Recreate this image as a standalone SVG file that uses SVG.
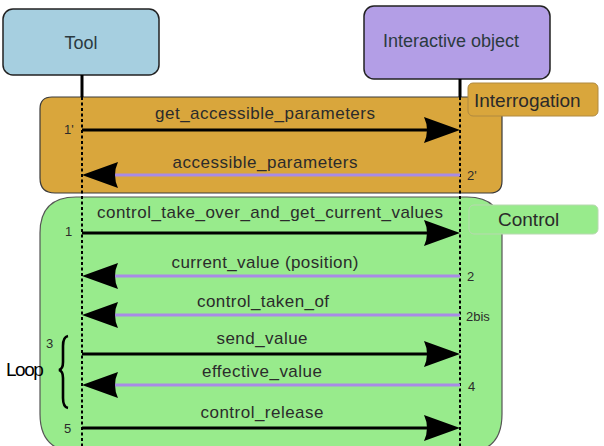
<svg xmlns="http://www.w3.org/2000/svg" xmlns:xlink="http://www.w3.org/1999/xlink" width="604" height="446" viewBox="0 0 604 446">
<style>
.msg{font-family:"Liberation Sans",Arial,sans-serif;font-size:17px;fill:#2b2b2b;text-anchor:middle}
.num{font-family:"Liberation Sans",Arial,sans-serif;font-size:13px;fill:#2b2b2b}
.title{font-family:"Liberation Sans",Arial,sans-serif;font-size:18px;fill:#2b3a40;text-anchor:middle}
.tab{font-family:"Liberation Sans",Arial,sans-serif;font-size:19px;fill:#2a2a2a}
.fwd{stroke:#000;stroke-width:3;fill:none}
.back{stroke:#a88be6;stroke-width:3;fill:none}
.life{stroke:#000;stroke-width:2;stroke-dasharray:3 2.5;fill:none}
.lifetop{stroke:#000;stroke-width:3;fill:none}
</style>
<defs>
<path id="ahR" d="M0,0 L-36,-13 Q-30,0 -36,13 Z" fill="#000"/>
<path id="ahL" d="M0,0 L36,-13 Q30,0 36,13 Z" fill="#000"/>
</defs>
<rect width="604" height="446" fill="#fff"/>

<g id="region-interrogation">
<path d="M52,97 L502,97 L502,181 Q502,193 490,193 L55,193 Q40,193 40,178 L40,109 Q40,97 52,97 Z" fill="#d9a63c" stroke="#3a3a3a" stroke-width="1.2"/>
<rect x="468" y="83" width="130" height="33" rx="5" fill="#d9a63c" stroke="#b08a40" stroke-width="1"/>
<text class="tab" x="474" y="107">Interrogation</text>
</g>

<g id="region-control">
<path d="M76,197 L467,197 Q502,197 502,232 L502,414 Q502,452 466,452 L78,452 Q40,452 40,414 L40,233 Q40,197 76,197 Z" fill="#98eb8c" stroke="#555" stroke-width="1.2"/>
<rect x="469" y="205" width="129" height="29" rx="5" fill="#98eb8c" stroke="#b8d8b0" stroke-width="1"/>
<text class="tab" x="498" y="226">Control</text>
</g>

<g id="node-tool">
<rect x="3" y="9" width="156" height="66" rx="10" fill="#a6cfe0" stroke="#222" stroke-width="1.5"/>
<text class="title" x="81" y="49">Tool</text>
</g>
<g id="node-interactive-object">
<rect x="364" y="6" width="186" height="73" rx="10" fill="#b39ee6" stroke="#222" stroke-width="1.5"/>
<text class="title" x="451" y="47" fill="#2e2a4a">Interactive object</text>
</g>

<g id="lifelines">
<line class="lifetop" x1="82" y1="75" x2="82" y2="97"/>
<line class="life" x1="82" y1="97" x2="82" y2="446"/>
<line class="lifetop" x1="460" y1="79" x2="460" y2="97"/>
<line class="life" x1="460" y1="97" x2="460" y2="446"/>
</g>

<g id="connectors">
<line class="fwd" x1="82" y1="130" x2="450" y2="130"/>
<use xlink:href="#ahR" x="460" y="130"/>
<text class="msg" x="265" y="119" textLength="220" lengthAdjust="spacing">get_accessible_parameters</text>
<text class="num" x="64" y="134">1'</text>

<line class="back" x1="460" y1="175" x2="112" y2="175"/>
<use xlink:href="#ahL" x="82" y="175"/>
<text class="msg" x="265" y="168" textLength="185" lengthAdjust="spacing">accessible_parameters</text>
<text class="num" x="467" y="180">2'</text>

<line class="fwd" x1="82" y1="233" x2="450" y2="233"/>
<use xlink:href="#ahR" x="460" y="233"/>
<text class="msg" x="270" y="218" textLength="346" lengthAdjust="spacing">control_take_over_and_get_current_values</text>
<text class="num" x="65" y="236">1</text>

<line class="back" x1="460" y1="276" x2="112" y2="276"/>
<use xlink:href="#ahL" x="82" y="276"/>
<text class="msg" x="265" y="268" textLength="187" lengthAdjust="spacing">current_value (position)</text>
<text class="num" x="467" y="281">2</text>

<line class="back" x1="460" y1="315" x2="112" y2="315"/>
<use xlink:href="#ahL" x="82" y="315"/>
<text class="msg" x="263" y="307" textLength="132" lengthAdjust="spacing">control_taken_of</text>
<text class="num" x="466" y="321">2bis</text>

<line class="fwd" x1="82" y1="354" x2="450" y2="354"/>
<use xlink:href="#ahR" x="460" y="354"/>
<text class="msg" x="262" y="344" textLength="91" lengthAdjust="spacing">send_value</text>
<text class="num" x="46" y="348">3</text>

<line class="back" x1="460" y1="385" x2="112" y2="385"/>
<use xlink:href="#ahL" x="82" y="385"/>
<text class="msg" x="262" y="377" textLength="120" lengthAdjust="spacing">effective_value</text>
<text class="num" x="468" y="391">4</text>

<line class="fwd" x1="82" y1="428" x2="450" y2="428"/>
<use xlink:href="#ahR" x="460" y="428"/>
<text class="msg" x="262" y="418" textLength="123" lengthAdjust="spacing">control_release</text>
<text class="num" x="64" y="433">5</text>
</g>

<g id="loop">
<path d="M68,336 Q63,337 63,346 L63,362 Q63,369 59,370 Q63,371 63,378 L63,398 Q63,407 68,408" fill="none" stroke="#000" stroke-width="2.6"/>
<text x="6" y="376" font-family="'Liberation Sans',Arial,sans-serif" font-size="19" fill="#000" letter-spacing="-1.5">Loop</text>
</g>
</svg>
